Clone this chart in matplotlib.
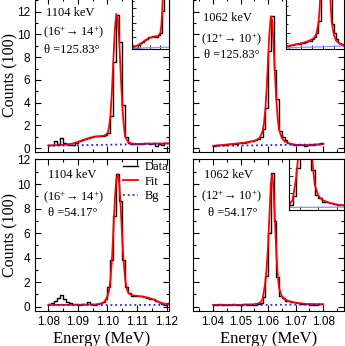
import numpy as np
import matplotlib
matplotlib.use('Agg')
import matplotlib.pyplot as plt
from matplotlib.ticker import MultipleLocator

# ── fonts ────────────────────────────────────────────────────────────────
plt.rcParams['font.family'] = ['Liberation Sans', 'DejaVu Sans']
plt.rcParams['mathtext.fontset'] = 'custom'
plt.rcParams['mathtext.rm'] = 'Liberation Serif'
plt.rcParams['mathtext.it'] = 'Liberation Serif:italic'
SERIF = ['Liberation Serif', 'DejaVu Serif']

# ── data (counts in units of 100, 1 keV bins) ────────────────────────────
bin_width = 0.001

# 1104 keV, theta = 125.83
tl_start = 1.080
tl_counts = [0.3, 0.3, 0.6, 0.4, 0.9, 0.5, 0.4, 0.3, 0.3, 0.5,
             0.6, 0.7, 0.8, 0.9, 1.0, 1.05, 1.1, 1.05, 1.05, 1.2,
             1.3, 2.8, 7.6, 11.7, 9.3, 3.8, 1.0, 0.5, 0.35, 0.35,
             0.4, 0.4, 0.45, 0.5, 0.4, 0.5, 0.2, 0.35, 0.3, 0.5]
tl_fit_e = [1.080, 1.082, 1.084, 1.086, 1.088, 1.090, 1.092, 1.094, 1.096, 1.098,
            1.099, 1.100, 1.1005, 1.101, 1.1015, 1.102, 1.1025, 1.103, 1.1035, 1.104,
            1.1045, 1.105, 1.1055, 1.106, 1.107, 1.108, 1.110, 1.114, 1.118, 1.1205]
tl_fit = [0.25, 0.26, 0.28, 0.32, 0.40, 0.55, 0.75, 0.92, 1.02, 1.08,
          1.12, 1.3, 1.8, 2.9, 5.0, 7.8, 10.5, 11.8, 11.4, 9.3,
          6.4, 3.8, 2.0, 1.0, 0.55, 0.42, 0.38, 0.40, 0.42, 0.43]
tl_bg_e = [1.080, 1.1205]
tl_bg = [0.22, 0.40]

# 1062 keV, theta = 125.83
tr_start = 1.040
tr_counts = [0.2, 0.25, 0.3, 0.3, 0.3, 0.35, 0.35, 0.4, 0.4, 0.45,
             0.5, 0.5, 0.55, 0.6, 0.6, 0.7, 0.8, 1.0, 1.7, 3.5,
             8.5, 11.6, 6.9, 4.3, 1.5, 1.0, 0.7, 0.5, 0.4, 0.3,
             0.3, 0.25, 0.25, 0.2, 0.25, 0.3, 0.3, 0.35, 0.4, 0.5]
tr_fit_e = [1.040, 1.044, 1.048, 1.051, 1.054, 1.056, 1.057, 1.058, 1.0585, 1.059,
            1.0595, 1.060, 1.0605, 1.061, 1.0615, 1.062, 1.0625, 1.063, 1.0635, 1.064,
            1.065, 1.066, 1.068, 1.070, 1.074, 1.080]
tr_fit = [0.22, 0.3, 0.4, 0.48, 0.6, 0.75, 0.95, 1.5, 2.2, 3.4,
          5.3, 7.8, 10.2, 11.6, 11.2, 9.0, 6.5, 4.2, 2.6, 1.6,
          0.9, 0.6, 0.4, 0.3, 0.28, 0.35]
tr_bg_e = [1.040, 1.080]
tr_bg = [0.2, 0.35]

# 1104 keV, theta = 54.17
bl_start = 1.080
bl_counts = [0.2, 0.3, 0.5, 0.7, 0.95, 0.6, 0.35, 0.3, 0.25, 0.2,
             0.15, 0.2, 0.2, 0.35, 0.2, 0.15, 0.2, 0.3, 0.35, 0.6,
             1.6, 3.8, 7.4, 10.8, 8.6, 3.8, 1.6, 1.1, 0.9, 0.85,
             0.9, 0.85, 0.8, 0.7, 0.65, 0.6, 0.5, 0.4, 0.2, 0.15, 0.3]
bl_fit_e = [1.080, 1.090, 1.096, 1.098, 1.099, 1.0995, 1.100, 1.1005, 1.101, 1.1015,
            1.102, 1.1025, 1.103, 1.1035, 1.104, 1.1045, 1.105, 1.1055, 1.106, 1.1065,
            1.107, 1.108, 1.110, 1.112, 1.114, 1.116, 1.118, 1.1205]
bl_fit = [0.15, 0.15, 0.18, 0.25, 0.4, 0.6, 0.9, 1.3, 2.2, 3.8,
          6.2, 8.8, 10.4, 10.8, 10.0, 8.0, 5.5, 3.5, 2.2, 1.5,
          1.15, 0.95, 0.88, 0.82, 0.72, 0.55, 0.3, 0.2]
bl_bg_e = [1.080, 1.1205]
bl_bg = [0.12, 0.15]

# 1062 keV, theta = 54.17
br_start = 1.040
br_counts = [0.15, 0.15, 0.2, 0.15, 0.15, 0.1, 0.15, 0.2, 0.15, 0.15,
             0.15, 0.2, 0.15, 0.15, 0.15, 0.15, 0.2, 0.3, 0.8, 2.5,
             6.0, 10.9, 7.0, 2.4, 0.9, 0.7, 0.5, 0.45, 0.4, 0.35,
             0.3, 0.3, 0.25, 0.2, 0.2, 0.15, 0.1, 0.15, 0.2, 0.25]
br_fit_e = [1.040, 1.050, 1.055, 1.057, 1.058, 1.0585, 1.059, 1.0595, 1.060, 1.0605,
            1.061, 1.0615, 1.062, 1.0625, 1.063, 1.0635, 1.064, 1.065, 1.066, 1.068,
            1.070, 1.074, 1.080]
br_fit = [0.15, 0.15, 0.2, 0.3, 0.6, 1.3, 2.0, 3.2, 5.0, 7.5,
          10.0, 10.8, 9.5, 7.0, 4.4, 2.6, 1.5, 0.85, 0.6, 0.42,
          0.32, 0.22, 0.2]
br_bg_e = [1.040, 1.080]
br_bg = [0.12, 0.18]

labels = {
    'tl': ['1104 keV', '(16$^{+}$→ 14$^{+}$)', 'θ =125.83°'],
    'tr': ['1062 keV', '(12$^{+}$→ 10$^{+}$)', 'θ =125.83°'],
    'bl': ['1104 keV', '(16$^{+}$→ 14$^{+}$)', 'θ =54.17°'],
    'br': ['1062 keV', '(12$^{+}$→ 10$^{+}$)', 'θ =54.17°'],
}


def draw_spectrum(ax, start, counts, fit_e, fit, bg_e, bg, inset=False):
    edges = start + bin_width * np.arange(len(counts) + 1)
    ax.step(edges, list(counts) + [counts[-1]], where='post', color='black', lw=1.0,
            label='Data')
    ax.plot(fit_e, fit, color='red', lw=1.3, label='Fit')
    if inset:
        ax.plot(bg_e, bg, color='#8c8cff', lw=0.9)
    else:
        ax.plot(bg_e, bg, color='#2020ff', lw=1.3, ls=':', label='Bg')


def style_axes(ax):
    ax.tick_params(which='both', direction='in', top=True, right=True, labelsize=8.5,
                   width=0.8)
    ax.tick_params(which='major', length=4, pad=3.5)
    ax.tick_params(which='minor', length=2)
    ax.yaxis.set_major_locator(MultipleLocator(2))
    ax.yaxis.set_minor_locator(MultipleLocator(1))
    ax.xaxis.set_major_locator(MultipleLocator(0.01))
    ax.xaxis.set_minor_locator(MultipleLocator(0.005))
    for s in ax.spines.values():
        s.set_linewidth(0.8)


def add_labels(ax, texts, xs, ys):
    for t, x, y in zip(texts, xs, ys):
        ax.text(x, y, t, transform=ax.transAxes, ha='center', va='center',
                fontsize=9, family=SERIF)


def add_inset(ax, rect, start, counts, fit_e, fit, bg_e, bg, xlim, ylim):
    ins = ax.inset_axes(rect)
    draw_spectrum(ins, start, counts, fit_e, fit, bg_e, bg, inset=True)
    ins.set_xlim(*xlim)
    ins.set_ylim(*ylim)
    ins.tick_params(which='both', direction='in', labelleft=False, labelbottom=False,
                    width=0.6)
    ins.tick_params(which='major', length=3)
    ins.tick_params(which='minor', length=1.5)
    ins.xaxis.set_major_locator(MultipleLocator(0.005))
    ins.yaxis.set_major_locator(MultipleLocator(1))
    ins.yaxis.set_minor_locator(MultipleLocator(0.5))
    for s in ins.spines.values():
        s.set_linewidth(0.8)
    return ins


fig = plt.figure(figsize=(3.45, 3.46), dpi=100)

ax_tl = fig.add_axes([35 / 345, 0.5616, 134 / 345, 0.443])
ax_tr = fig.add_axes([193 / 345, 0.5616, 151 / 345, 0.443])
ax_bl = fig.add_axes([35 / 345, 0.1012, 134 / 345, 0.4379])
ax_br = fig.add_axes([193 / 345, 0.1012, 151 / 345, 0.4379])

draw_spectrum(ax_tl, tl_start, tl_counts, tl_fit_e, tl_fit, tl_bg_e, tl_bg)
draw_spectrum(ax_tr, tr_start, tr_counts, tr_fit_e, tr_fit, tr_bg_e, tr_bg)
draw_spectrum(ax_bl, bl_start, bl_counts, bl_fit_e, bl_fit, bl_bg_e, bl_bg)
draw_spectrum(ax_br, br_start, br_counts, br_fit_e, br_fit, br_bg_e, br_bg)

for ax in (ax_tl, ax_tr, ax_bl, ax_br):
    style_axes(ax)

ax_tl.set_xlim(1.0755, 1.1208)
ax_bl.set_xlim(1.0755, 1.1208)
ax_tr.set_xlim(1.0327, 1.0876)
ax_br.set_xlim(1.0327, 1.0876)
ax_tl.set_ylim(-0.30, 13.16)
ax_tr.set_ylim(-0.30, 13.16)
ax_bl.set_ylim(-0.35, 12.0)
ax_br.set_ylim(-0.35, 12.0)

ax_tl.tick_params(labelbottom=False)
ax_tr.tick_params(labelbottom=False, labelleft=False)
ax_br.tick_params(labelleft=False)

for ax in (ax_tl, ax_bl):
    ax.set_ylabel('Counts (100)', fontsize=11.5, family=SERIF)
    ax.yaxis.set_label_coords(-0.125, 0.5)
for ax in (ax_bl, ax_br):
    ax.set_xlabel('Energy (MeV)', fontsize=12, family=SERIF, labelpad=2)

add_labels(ax_tl, labels['tl'], [0.261, 0.284, 0.276], [0.905, 0.775, 0.664])
add_labels(ax_tr, labels['tr'], [0.225, 0.258, 0.258], [0.873, 0.729, 0.631])
add_labels(ax_bl, labels['bl'], [0.276, 0.284, 0.284], [0.898, 0.746, 0.647])
add_labels(ax_br, labels['br'], [0.232, 0.258, 0.265], [0.898, 0.752, 0.647])

add_inset(ax_tl, [0.724, 0.670, 0.276, 0.34], tl_start, tl_counts, tl_fit_e, tl_fit,
          tl_bg_e, tl_bg, (1.086, 1.1043), (0.2, 3.8))
add_inset(ax_tr, [0.616, 0.670, 0.384, 0.34], tr_start, tr_counts, tr_fit_e, tr_fit,
          tr_bg_e, tr_bg, (1.0435, 1.0695), (0.15, 3.0))
add_inset(ax_br, [0.636, 0.667, 0.364, 0.333], br_start, br_counts, br_fit_e, br_fit,
          br_bg_e, br_bg, (1.057, 1.072), (0.0, 3.0))

leg = ax_bl.legend(loc='upper right', frameon=False, prop={'family': SERIF, 'size': 9},
                   handlelength=1.2, handletextpad=0.5, labelspacing=0.2,
                   borderaxespad=0.1, bbox_to_anchor=(1.04, 1.03))

fig.savefig('out.png', dpi=100)
